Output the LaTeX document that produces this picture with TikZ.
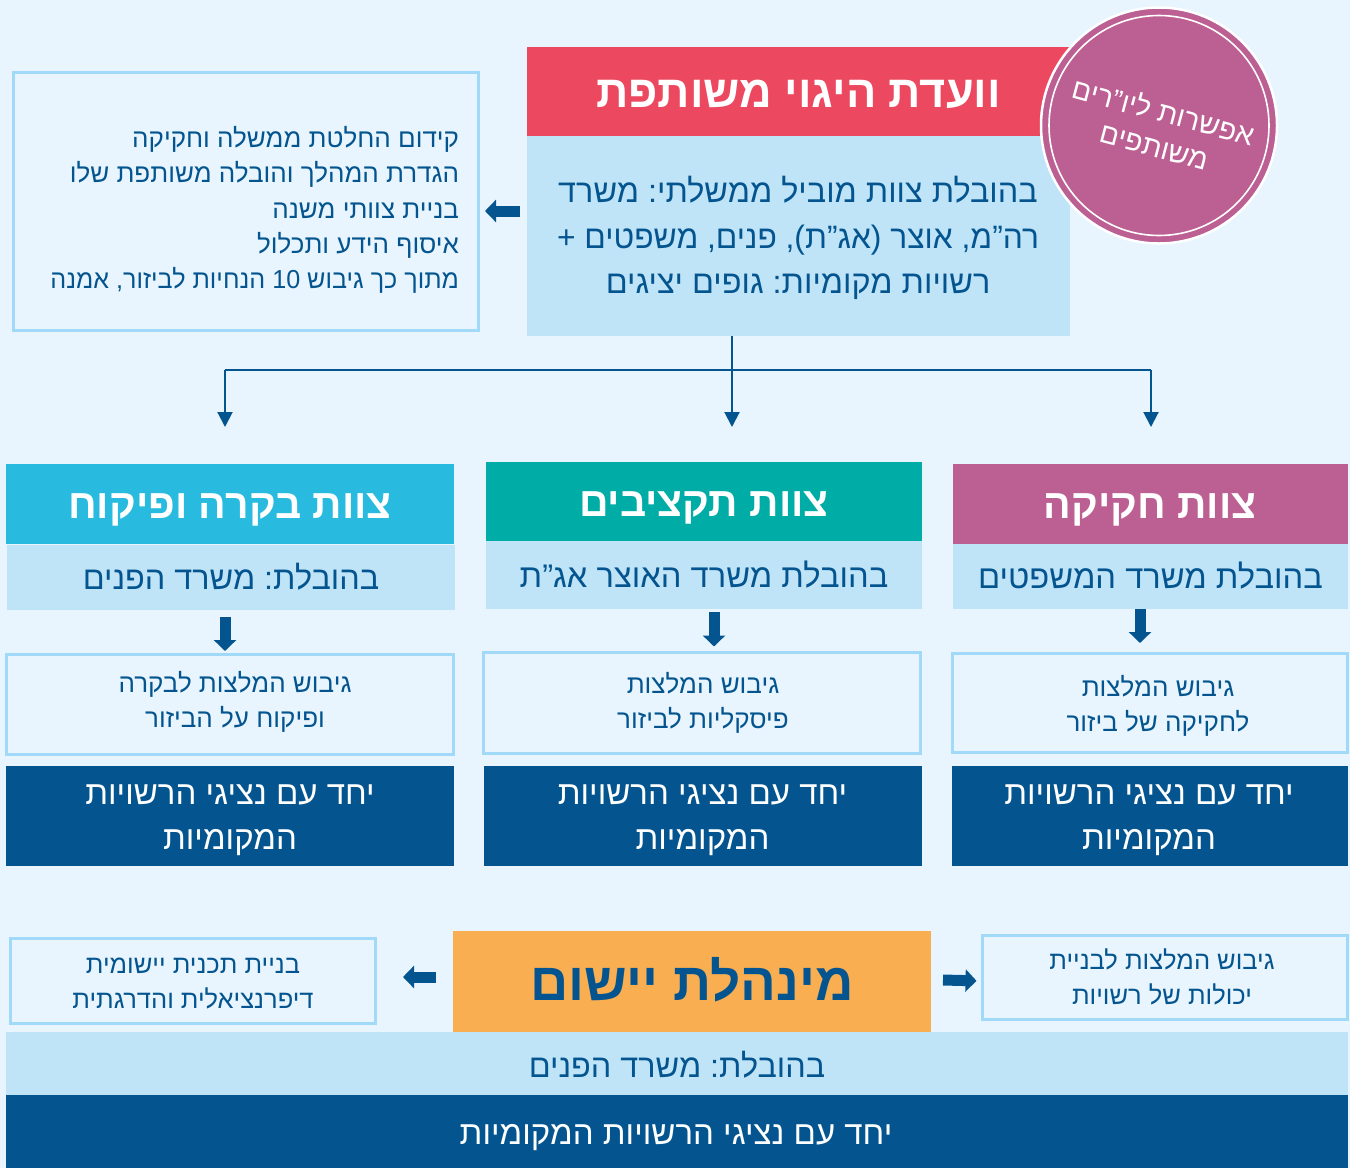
\documentclass[tikz,border=0pt]{standalone}
\usepackage{fontspec}
\usetikzlibrary{arrows.meta}
\TeXXeTstate=1
\setmainfont[Script=Hebrew]{Liberation Sans}
\frenchspacing
\newcommand\rl[1]{\beginR #1\endR}
\newcommand\bx[6]{\pgfmathsetmacro\bxc{(#3+#5)/2}\pgfmathsetmacro\bxd{(#4+#6)/2}\pgfmathsetmacro\bxw{#5-#3}\pgfmathsetmacro\bxh{#6-#4}\node[#2,minimum width=\bxw pt,minimum height=\bxh pt] (#1) at (\bxc,\bxd) {};}
\definecolor{bg}{HTML}{E8F5FE}
\definecolor{lite}{HTML}{BFE4F8}
\definecolor{edge}{HTML}{A0DAF8}
\definecolor{navy}{HTML}{04558F}
\definecolor{redc}{HTML}{EC4860}
\definecolor{pinkc}{HTML}{BC5F93}
\definecolor{tealc}{HTML}{00ADA6}
\definecolor{skyc}{HTML}{29BBDF}
\definecolor{orangec}{HTML}{FAAE52}
\tikzset{
 panel/.style={inner sep=0,outer sep=0,draw=none},
 litebox/.style={panel,fill=lite},
 navybox/.style={panel,fill=navy},
 headbox/.style={panel,fill=#1},
 linebox/.style={inner sep=0,outer sep=0,draw=edge,line width=3pt,fill=bg},
 txt/.style={inner sep=0,outer sep=0,align=center,text=navy,font=\fontsize{#1}{#1}\selectfont},
 multi/.style 2 args={inner sep=0,outer sep=0,align=center,text=navy,font=\fontsize{#1}{#2}\selectfont},
 head/.style={inner sep=0,outer sep=0,align=center,text=white,font=\bfseries\fontsize{#1}{#1}\selectfont},
 flow/.style={draw=navy,line width=2pt,-{Triangle[width=15pt,length=15pt]}},
 wire/.style={draw=navy,line width=1.3pt},
 block/.style={draw=navy,line width=11pt,-{Triangle[width=22pt,length=11pt]}},
}
\begin{document}
\begin{tikzpicture}[x=1pt,y=-1pt]
\useasboundingbox (0,0) rectangle (1350,1168);
\fill[bg] (0,0) rectangle (1350,1168);
% top group
\bx{leftbox}{linebox}{13}{72}{478}{330}
\bx{title}{headbox=redc}{527}{47}{1070}{136}
\bx{body}{litebox}{527}{136}{1070}{336}
\node[circle,fill=pinkc,draw=white,line width=2.5pt,minimum size=236pt,inner sep=0] (badge) at (1159,125.5) {};
\node[circle,draw=white,line width=1.6pt,minimum size=220pt,inner sep=0] (ring) at (1159,125.5) {};
\node[head=45] (titlet) at (798.5,94) {\rl{וועדת היגוי משותפת}};
\node[multi={32.4}{45.5}] (bodyt) at (798,238) {\rl{בהובלת צוות מוביל ממשלתי: משרד}\\\scalebox{0.98}[1]{\rl{רה"מ, אוצר (אג"ת), פנים, משפטים +}}\\\rl{רשויות מקומיות: גופים יציגים}};
\node[multi={28.5}{35.3},text=white,rotate=-15] (badget) at (1159,128) {\rl{אפשרות ליו"רים}\\\rl{משותפים}};
\node[multi={26}{35.3},align=right,anchor=east] (leftt) at (459,210) {\rl{קידום החלטת ממשלה וחקיקה}\\\rl{הגדרת המהלך והובלה משותפת שלו}\\\rl{בניית צוותי משנה}\\\rl{איסוף הידע ותכלול}\\\scalebox{0.967}[1]{\rl{מתוך כך גיבוש \beginL 10\endL{} הנחיות לביזור, אמנה}}};
% connectors of the top group
\coordinate (ay) at (0,211);
\draw[block,shorten >=7pt] (body.west |- ay) ++(-7,0) -- (leftbox.east |- ay);
\coordinate (bus) at (732,370);
\coordinate (busL) at (225,370);
\coordinate (busR) at (1151,370);
\coordinate (endL) at (225,427);
\coordinate (endM) at (732,427);
\coordinate (endR) at (1151,427);
\draw[wire] (busL) -- (busR);
\draw[flow] (busL) -- (endL);
\draw[wire] (body.south -| bus) -- (bus);
\draw[flow] (bus) -- (endM);
\draw[flow] (busR) -- (endR);
% right column
\bx{hR}{headbox=pinkc}{953}{464}{1348}{544}
\bx{sR}{litebox}{953}{544}{1348}{609}
\bx{bR}{linebox}{952}{653}{1347}{752}
\bx{dR}{navybox}{952}{766}{1348}{866}
\node[head=41] (hRt) at (1150,510) {\rl{צוות חקיקה}};
\node[txt=32.7] (sRt) at (1150.5,576) {\rl{בהובלת משרד המשפטים}};
\node[multi={26}{35}] (bRt) at (1158,705.5) {\rl{גיבוש המלצות}\\\rl{לחקיקה של ביזור}};
\node[multi={33}{45},text=white] (dRt) at (1149,820) {\rl{יחד עם נציגי הרשויות}\\\rl{המקומיות}};
% middle column
\bx{hM}{headbox=tealc}{486}{462}{922}{541}
\bx{sM}{litebox}{486}{541}{922}{609}
\bx{bM}{linebox}{483.5}{652.5}{920.5}{753}
\bx{dM}{navybox}{484}{766}{922}{866}
\node[head=41] (hMt) at (704,508) {\rl{צוות תקציבים}};
\node[txt=32.7] (sMt) at (704,575) {\rl{בהובלת משרד האוצר אג"ת}};
\node[multi={26}{35}] (bMt) at (703,703) {\rl{גיבוש המלצות}\\\rl{פיסקליות לביזור}};
\node[multi={33}{45},text=white] (dMt) at (702.5,820) {\rl{יחד עם נציגי הרשויות}\\\rl{המקומיות}};
% left column
\bx{hL}{headbox=skyc}{6}{464}{454}{544}
\bx{sL}{litebox}{7}{545}{455}{610}
\bx{bL}{linebox}{6}{654}{453}{754}
\bx{dL}{navybox}{6}{766}{454}{866}
\node[head=41] (hLt) at (230,510) {\rl{צוות בקרה ופיקוח}};
\node[txt=32.4] (sLt) at (231,577) {\rl{בהובלת: משרד הפנים}};
\node[multi={26}{35}] (bLt) at (235,702) {\rl{גיבוש המלצות לבקרה}\\\rl{ופיקוח על הביזור}};
\node[multi={33}{45},text=white] (dLt) at (230,820) {\rl{יחד עם נציגי הרשויות}\\\rl{המקומיות}};
% column arrows
\coordinate (xR) at (1140,0);
\coordinate (xM) at (714,0);
\coordinate (xL) at (225,0);
\draw[block,shorten >=10pt] (xR |- sR.south) -- (xR |- bR.north);
\draw[block,shorten >=6pt] (xM |- sM.south) ++(0,3) -- (xM |- bM.north);
\draw[block,shorten >=3pt] (xL |- sL.south) ++(0,7) -- (xL |- bL.north);
% bottom
\bx{orangebox}{headbox=orangec}{453}{931}{931}{1032}
\bx{bBL}{linebox}{10.5}{938}{375}{1023}
\bx{bBR}{linebox}{982.5}{935}{1347}{1019}
\bx{sB}{litebox}{6}{1032}{1348}{1095}
\bx{dB}{navybox}{6}{1095}{1348}{1168}
\node[multi={53}{53},font=\bfseries\fontsize{53}{53}\selectfont] (ot) at (692,980) {\rl{מינהלת יישום}};
\node[multi={25.5}{35}] (bBLt) at (193,983.5) {\rl{בניית תכנית יישומית}\\\rl{דיפרנציאלית והדרגתית}};
\node[multi={25.5}{35}] (bBRt) at (1162,977) {\rl{גיבוש המלצות לבניית}\\\rl{יכולות של רשויות}};
\node[txt=32.4] (sBt) at (677,1065) {\rl{בהובלת: משרד הפנים}};
\node[txt=33,text=white] (dBt) at (676,1138) {\rl{יחד עם נציגי הרשויות המקומיות}};
\coordinate (ayL) at (0,977);
\coordinate (ayR) at (0,981);
\draw[block,shorten >=28pt] (orangebox.west |- ayL) ++(-17,0) -- (bBL.east |- ayL);
\draw[block,shorten >=6pt] (orangebox.east |- ayR) ++(12,-1) -- (bBR.west |- ayR);
\end{tikzpicture}
\end{document}
